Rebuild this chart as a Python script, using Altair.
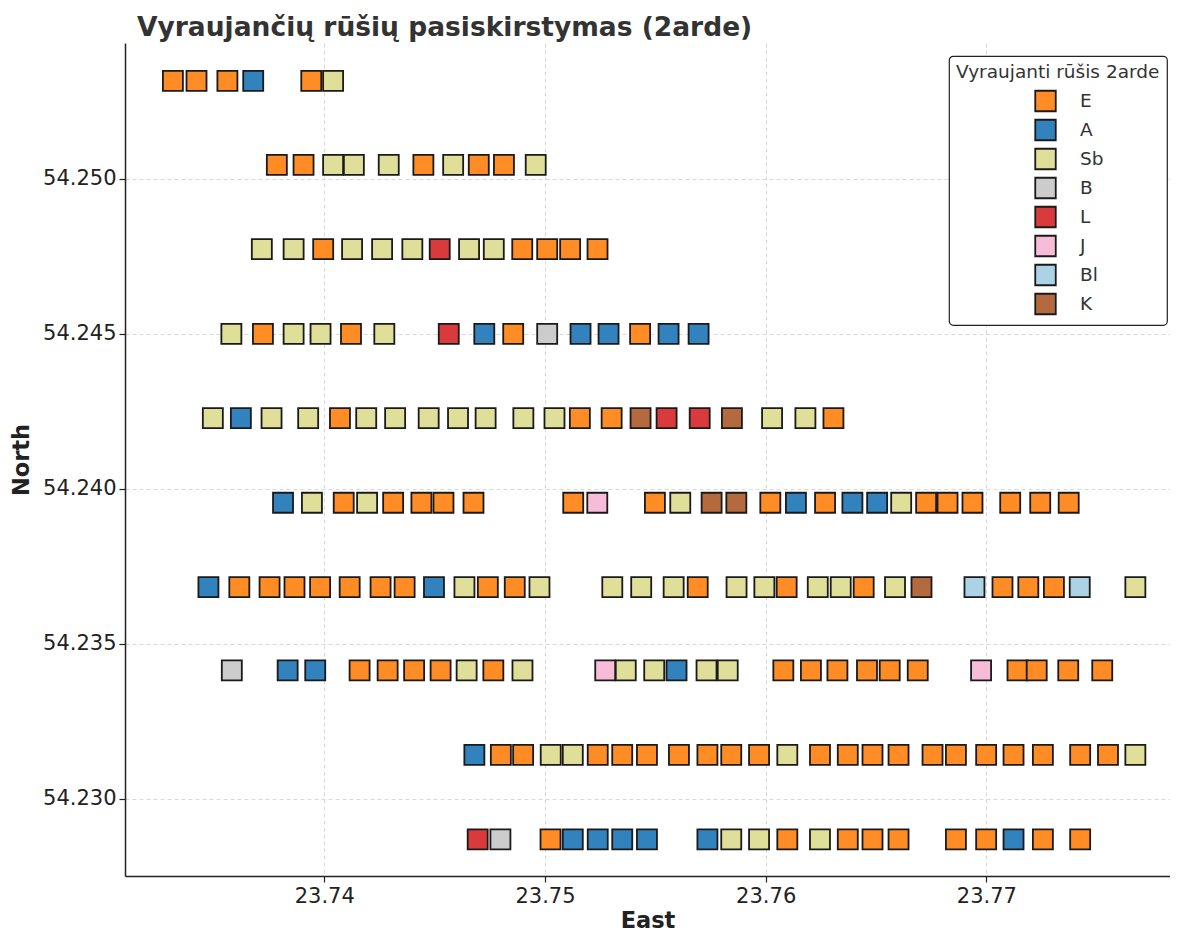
import altair as alt
import pandas as pd

# Row latitudes (North)
row_lat = [54.25316, 54.25045, 54.24773, 54.24500, 54.24228,
           54.23955, 54.23683, 54.23414, 54.23142, 54.22869]

# Longitudes (East) per row
lon_r1 = [23.73314, 23.73421, 23.73561, 23.73678, 23.73941, 23.74040]
lon_r2 = [23.73785, 23.73906, 23.74040, 23.74134, 23.74292, 23.74449, 23.74584,
          23.74700, 23.74814, 23.74958]
lon_r3 = [23.73717, 23.73861, 23.73995, 23.74126, 23.74262, 23.74399, 23.74523,
          23.74656, 23.74768, 23.74897, 23.75010, 23.75114, 23.75238]
lon_r4 = [23.73579, 23.73722, 23.73861, 23.73983, 23.74121, 23.74272, 23.74564,
          23.74725, 23.74856, 23.75010, 23.75161, 23.75288, 23.75431, 23.75560,
          23.75696]
lon_r5 = [23.73495, 23.73622, 23.73761, 23.73927, 23.74071, 23.74190, 23.74321,
          23.74473, 23.74606, 23.74731, 23.74902, 23.75043, 23.75158, 23.75302,
          23.75433, 23.75551, 23.75701, 23.75847, 23.76029, 23.76180, 23.76307]
lon_r6 = [23.73813, 23.73944, 23.74088, 23.74194, 23.74312, 23.74440, 23.74540,
          23.74676, 23.75128, 23.75237, 23.75498, 23.75613, 23.75755, 23.75867,
          23.76021, 23.76137, 23.76269, 23.76393, 23.76505, 23.76614, 23.76727,
          23.76824, 23.76937, 23.77108, 23.77244, 23.77373]
lon_r7 = [23.73475, 23.73615, 23.73752, 23.73865, 23.73981, 23.74115, 23.74255,
          23.74364, 23.74497, 23.74635, 23.74741, 23.74863, 23.74975, 23.75305,
          23.75436, 23.75583, 23.75692, 23.75868, 23.75994, 23.76095, 23.76236,
          23.76340, 23.76444, 23.76586, 23.76706, 23.76946, 23.77073, 23.77190,
          23.77306, 23.77423, 23.77675]
lon_r8 = [23.73581, 23.73834, 23.73959, 23.74160, 23.74287, 23.74407, 23.74527,
          23.74645, 23.74766, 23.74898, 23.75273, 23.75366, 23.75495, 23.75596,
          23.75732, 23.75828, 23.76080, 23.76205, 23.76325, 23.76459, 23.76562,
          23.76689, 23.76976, 23.77141, 23.77228, 23.77371, 23.77525]
lon_r9 = [23.74680, 23.74800, 23.74901, 23.75026, 23.75126, 23.75239, 23.75350,
          23.75462, 23.75607, 23.75736, 23.75844, 23.75970, 23.76098, 23.76246,
          23.76372, 23.76484, 23.76602, 23.76756, 23.76862, 23.76999, 23.77123,
          23.77256, 23.77425, 23.77551, 23.77675]
lon_r10 = [23.74695, 23.74798, 23.75025, 23.75126, 23.75239, 23.75350, 23.75462,
           23.75736, 23.75844, 23.75970, 23.76098, 23.76246, 23.76372, 23.76484,
           23.76602, 23.76862, 23.76999, 23.77123, 23.77256, 23.77425]

# Dominant species per point
sp_r1 = ["E", "E", "E", "A", "E", "Sb"]
sp_r2 = ["E", "E", "Sb", "Sb", "Sb", "E", "Sb", "E", "E", "Sb"]
sp_r3 = ["Sb", "Sb", "E", "Sb", "Sb", "Sb", "L", "Sb", "Sb", "E", "E", "E", "E"]
sp_r4 = ["Sb", "E", "Sb", "Sb", "E", "Sb", "L", "A", "E", "B", "A", "A", "E", "A", "A"]
sp_r5 = ["Sb", "A", "Sb", "Sb", "E", "Sb", "Sb", "Sb", "Sb", "Sb", "Sb", "Sb", "E",
         "E", "K", "L", "L", "K", "Sb", "Sb", "E"]
sp_r6 = ["A", "Sb", "E", "Sb", "E", "E", "E", "E", "E", "J", "E", "Sb", "K", "K",
         "E", "A", "E", "A", "A", "Sb", "E", "E", "E", "E", "E", "E"]
sp_r7 = ["A", "E", "E", "E", "E", "E", "E", "E", "A", "Sb", "E", "E", "Sb", "Sb",
         "Sb", "Sb", "E", "Sb", "Sb", "E", "Sb", "Sb", "E", "Sb", "K", "Bl", "E",
         "E", "E", "Bl", "Sb"]
sp_r8 = ["B", "A", "A", "E", "E", "E", "E", "Sb", "E", "Sb", "J", "Sb", "Sb", "A",
         "Sb", "Sb", "E", "E", "E", "E", "E", "E", "J", "E", "E", "E", "E"]
sp_r9 = ["A", "E", "E", "Sb", "Sb", "E", "E", "E", "E", "E", "E", "E", "Sb", "E",
         "E", "E", "E", "E", "E", "E", "E", "E", "E", "E", "Sb"]
sp_r10 = ["L", "B", "E", "A", "A", "A", "A", "A", "Sb", "Sb", "E", "Sb", "E", "E",
          "E", "E", "E", "A", "E", "E"]

species_order = ["E", "A", "Sb", "B", "L", "J", "Bl", "K"]
species_colors = ["#FF8C24", "#3282BD", "#DFDF9A", "#CCCCCC", "#D93B3D",
                  "#F7BCD8", "#ABD2E5", "#B5693F"]

lon_rows = [lon_r1, lon_r2, lon_r3, lon_r4, lon_r5, lon_r6, lon_r7, lon_r8, lon_r9, lon_r10]
sp_rows = [sp_r1, sp_r2, sp_r3, sp_r4, sp_r5, sp_r6, sp_r7, sp_r8, sp_r9, sp_r10]

records = []
for lat, lons, sps in zip(row_lat, lon_rows, sp_rows):
    for lon, sp in zip(lons, sps):
        records.append({"East": lon, "North": lat, "Species": sp})
df = pd.DataFrame(records)

FONT = "DejaVu Sans"

chart = alt.Chart(df).mark_square(
    size=400, opacity=1, stroke="#1a1a1a", strokeWidth=1.8
).encode(
    x=alt.X("East:Q",
            scale=alt.Scale(domain=[23.73097, 23.77832], nice=False, zero=False),
            axis=alt.Axis(values=[23.74, 23.75, 23.76, 23.77], format=".2f",
                          title="East", titlePadding=3)),
    y=alt.Y("North:Q",
            scale=alt.Scale(domain=[54.22751, 54.25438], nice=False, zero=False),
            axis=alt.Axis(values=[54.230, 54.235, 54.240, 54.245, 54.250],
                          format=".3f", title="North", titlePadding=9)),
    color=alt.Color("Species:N",
                    scale=alt.Scale(domain=species_order, range=species_colors),
                    legend=alt.Legend(
                        title="Vyraujanti rūšis 2arde",
                        orient="none", legendX=824, legendY=13,
                        symbolType="square", symbolSize=420,
                        symbolStrokeColor="#1a1a1a", symbolStrokeWidth=1.8,
                        symbolOpacity=1, symbolOffset=78,
                        labelFontSize=18.5, labelFont=FONT, labelColor="#333333",
                        labelOffset=23,
                        titleFontSize=18.5, titleFont=FONT, titleFontWeight="normal",
                        titleColor="#333333", titlePadding=8, titleLimit=400,
                        rowPadding=0, padding=7,
                        strokeColor="#222222", fillColor="white",
                        cornerRadius=4)),
).properties(
    width=1045,
    height=833,
    autosize="none",
    padding={"left": 117, "top": 35, "right": 0, "bottom": 57},
    title=alt.TitleParams("Vyraujančių rūšių pasiskirstymas (2arde)",
                          anchor="start", frame="group", dx=12, fontSize=26.5,
                          font=FONT, fontWeight="bold", color="#333333", offset=2),
).configure_view(
    stroke=None
).configure_legend(
    strokeWidth=1.2
).configure_axis(
    domainColor="#222222", domainWidth=1.5,
    tickColor="#222222", tickWidth=1.2, tickSize=6,
    labelFont=FONT, labelFontSize=21, labelColor="#222222", labelPadding=3,
    titleFont=FONT, titleFontSize=22.5, titleFontWeight="bold", titleColor="#222222",
    gridColor="#cfcfcf", gridDash=[4, 3], gridWidth=0.8,
)

chart.save("out.html", embed_options={"renderer": "svg", "actions": False})
